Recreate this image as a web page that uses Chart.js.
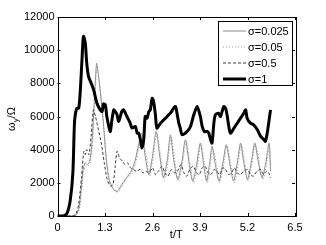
<!DOCTYPE html>
<html>
<head>
<meta charset="utf-8">
<script src="https://cdn.jsdelivr.net/npm/chart.js@4"></script>
<style>html,body{margin:0;padding:0;background:#fff}</style>
</head>
<body>
<canvas id="myChart" width="326" height="245"></canvas>
<script>
// legend labels
const labels = ["σ=0.025", "σ=0.05", "σ=0.5", "σ=1"];
const xTicks = [0, 1.3, 2.6, 3.9, 5.2, 6.5];

// sigma = 0.025
const t025 = [0,0.45,0.52,0.58,0.64,0.70,0.76,0.82,0.88,0.94,1.00,1.07,1.13,1.20,1.27,1.34,1.41,1.48,1.56,1.64,1.72,1.82,1.92,2.02,2.12,2.22,2.31,2.40,2.50,2.60,2.70,2.80,2.90,3.00,3.09,3.18,3.29,3.40,3.50,3.60,3.70,3.80,3.91,4.00,4.08,4.16,4.23,4.32,4.42,4.52,4.62,4.72,4.82,4.92,5.01,5.10,5.20,5.30,5.40,5.50,5.60,5.70,5.79,5.83];
const w025 = [0,0,100,400,1400,2800,3200,3100,3300,4300,6600,9200,8300,6900,5200,3300,2200,1800,1550,1500,1750,2100,2400,2700,3300,4300,5000,3600,2500,3600,5100,3600,2300,3300,4900,3400,2200,3200,4600,3200,2100,3000,4400,3100,2100,3100,4200,3100,2100,3100,4300,3100,2100,3200,4400,3200,2200,3200,4400,3200,2300,3200,4400,2700];

// sigma = 0.05
const t05 = [0,0.46,0.53,0.59,0.65,0.71,0.77,0.83,0.89,0.95,1.01,1.08,1.14,1.21,1.28,1.35,1.42,1.50,1.58,1.66,1.74,1.84,1.94,2.04,2.14,2.24,2.33,2.42,2.52,2.62,2.72,2.82,2.92,3.02,3.11,3.20,3.31,3.42,3.52,3.62,3.72,3.82,3.93,4.02,4.10,4.18,4.25,4.34,4.44,4.54,4.64,4.74,4.84,4.94,5.03,5.12,5.22,5.32,5.42,5.52,5.62,5.72,5.80,5.83];
const w05 = [0,0,80,350,1200,2600,3000,3000,3200,4100,6300,9000,8200,6800,5000,3200,2200,1750,1500,1450,1700,2050,2350,2650,3200,4200,4900,3700,2400,3500,5000,3700,2200,3200,4800,3500,2100,3100,4500,3300,2000,2900,4300,3200,2000,3000,4100,3200,2000,3000,4200,3200,2000,3100,4300,3300,2100,3100,4300,3300,2200,3100,4300,3000];

// sigma = 0.5
const t5 = [0,0.42,0.50,0.58,0.66,0.72,0.76,0.80,0.86,0.92,0.98,1.04,1.12,1.20,1.28,1.36,1.45,1.52,1.58,1.63,1.70,1.78,1.85,1.92,2.00,2.08,2.16,2.26,2.34,2.42,2.50,2.60,2.68,2.76,2.86,2.94,3.02,3.12,3.20,3.28,3.38,3.46,3.54,3.62,3.72,3.80,3.88,3.96,4.04,4.12,4.20,4.28,4.36,4.44,4.52,4.60,4.68,4.76,4.84,4.92,5.00,5.10,5.20,5.28,5.36,5.46,5.56,5.64,5.72,5.78,5.83];
const w5 = [0,0,100,700,2400,3900,3700,4000,3700,4800,6400,6000,5200,4400,3200,2200,1800,1900,3000,3900,3500,3300,3100,3200,2900,2800,2700,2800,2600,2700,2600,2900,2500,2700,3000,2600,2400,2800,2600,2700,3100,2600,2400,2800,3000,2600,2500,2900,3000,2600,2500,2800,2700,2500,2900,2800,2500,2600,2900,2600,2500,2700,2800,2500,2400,2700,2800,2500,2700,2600,2300];

// sigma = 1
const t1 = [0,0.16,0.26,0.35,0.42,0.46,0.48,0.53,0.58,0.62,0.67,0.71,0.76,0.80,0.85,0.94,0.99,1.08,1.17,1.22,1.26,1.31,1.35,1.44,1.49,1.54,1.58,1.63,1.67,1.72,1.76,1.81,1.90,1.99,2.04,2.13,2.18,2.22,2.27,2.31,2.36,2.40,2.45,2.50,2.54,2.59,2.63,2.68,2.72,2.82,2.91,3.00,3.04,3.09,3.18,3.23,3.27,3.32,3.36,3.41,3.55,3.64,3.73,3.82,3.91,3.96,4.02,4.10,4.14,4.19,4.23,4.28,4.32,4.41,4.46,4.55,4.60,4.64,4.73,4.83,4.92,5.01,5.10,5.15,5.19,5.28,5.37,5.47,5.56,5.65,5.69,5.74,5.83];
const w1 = [0,0,160,970,2580,5400,6000,6500,6500,7400,9420,10830,10430,9220,8410,7910,7600,6800,6400,6300,6760,6700,6000,5090,5800,6400,6300,6100,5700,6000,6300,6400,6000,5600,5300,5400,5000,5000,4600,4100,4600,6000,5900,6300,6400,7100,6900,6100,5300,5600,5800,6000,6100,6200,6500,6600,6200,5600,5300,4900,5100,5400,6100,6600,6000,5400,5090,5100,5000,4600,4400,5600,6100,6200,6000,6600,6500,6100,5000,5300,5600,5900,6200,6400,5900,5600,5500,5200,4800,4600,4500,5000,6400];

const pts = (t, w) => t.map((x, i) => ({ x: x, y: w[i] }));
const FONT = "Liberation Sans";

// box, inward ticks, axis titles and legend, matlab style
const framePlugin = {
  id: "frame",
  afterDraw(chart) {
    const ctx = chart.ctx;
    const a = chart.chartArea;
    const sx = chart.scales.x, sy = chart.scales.y;
    ctx.save();
    ctx.strokeStyle = "#000";
    ctx.lineWidth = 1;
    ctx.strokeRect(Math.round(a.left) + 0.5, Math.round(a.top) + 0.5, Math.round(a.right - a.left), Math.round(a.bottom - a.top));
    ctx.beginPath();
    xTicks.forEach((v) => {
      const px = Math.round(sx.getPixelForValue(v)) + 0.5;
      ctx.moveTo(px, a.bottom); ctx.lineTo(px, a.bottom - 3);
      ctx.moveTo(px, a.top); ctx.lineTo(px, a.top + 3);
    });
    sy.ticks.forEach((t) => {
      const py = Math.round(sy.getPixelForValue(t.value)) + 0.5;
      ctx.moveTo(a.left, py); ctx.lineTo(a.left + 3, py);
      ctx.moveTo(a.right, py); ctx.lineTo(a.right - 3, py);
    });
    ctx.stroke();

    // x title
    ctx.fillStyle = "#000";
    ctx.font = "11px " + FONT;
    ctx.textAlign = "center";
    ctx.textBaseline = "middle";
    ctx.fillText("t/T", (a.left + a.right) / 2, 235);

    // y title with subscript
    ctx.save();
    ctx.translate(12, 119);
    ctx.rotate(-Math.PI / 2);
    ctx.textAlign = "left";
    ctx.font = "11px " + FONT;
    const w1t = ctx.measureText("ω").width;
    const w3t = ctx.measureText("/Ω").width;
    ctx.font = "8px " + FONT;
    const w2t = ctx.measureText("y").width;
    let x0 = -(w1t + w2t + w3t) / 2;
    ctx.font = "11px " + FONT;
    ctx.fillText("ω", x0, 0);
    ctx.font = "8px " + FONT;
    ctx.fillText("y", x0 + w1t, 4);
    ctx.font = "11px " + FONT;
    ctx.fillText("/Ω", x0 + w1t + w2t, 0);
    ctx.restore();

    // legend
    const lx = 218.5, ly = 21.5, lw = 74, lh = 64;
    ctx.fillStyle = "#fff";
    ctx.fillRect(lx, ly, lw, lh);
    ctx.strokeStyle = "#000";
    ctx.lineWidth = 1;
    ctx.strokeRect(lx, ly, lw, lh);
    chart.data.datasets.forEach((ds, i) => {
      const y = 31 + i * 16;
      ctx.beginPath();
      ctx.strokeStyle = ds.borderColor;
      ctx.lineWidth = ds.borderWidth;
      ctx.setLineDash(ds.borderDash || []);
      ctx.moveTo(223, y); ctx.lineTo(246, y);
      ctx.stroke();
      ctx.setLineDash([]);
      ctx.fillStyle = "#000";
      ctx.font = "11px " + FONT;
      ctx.textAlign = "left";
      ctx.textBaseline = "middle";
      ctx.fillText(ds.label, 248, y + 0.5);
    });
    ctx.restore();
  },
};

chart = new Chart(document.getElementById("myChart").getContext("2d"), {
  type: "line",
  data: {
    datasets: [
      { label: labels[0], data: pts(t025, w025), borderColor: "#8c8c8c", borderWidth: 1, order: 3 },
      { label: labels[1], data: pts(t05, w05), borderColor: "#9a9a9a", borderWidth: 1, borderDash: [1, 2], order: 2 },
      { label: labels[2], data: pts(t5, w5), borderColor: "#3c3c3c", borderWidth: 1, borderDash: [3, 2], order: 1 },
      { label: labels[3], data: pts(t1, w1), borderColor: "#000", borderWidth: 3, order: 0 },
    ],
  },
  options: {
    responsive: false,
    animation: false,
    layout: { padding: { top: 17, right: 31, left: 0, bottom: 0 } },
    elements: {
      point: { radius: 0 },
      line: { tension: 0.25, fill: false },
    },
    plugins: {
      legend: { display: false },
      tooltip: { enabled: false },
    },
    scales: {
      x: {
        type: "linear",
        min: 0,
        max: 6.5,
        afterBuildTicks: (s) => { s.ticks = xTicks.map((v) => ({ value: v })); },
        afterFit: (s) => { s.height = 29; },
        grid: { display: false, drawTicks: false },
        border: { display: false },
        ticks: {
          color: "#000",
          font: { family: FONT, size: 11 },
          padding: 5,
          maxRotation: 0,
          callback: (v) => (v === 0 ? "0" : v.toFixed(1)),
        },
      },
      y: {
        min: 0,
        max: 12000,
        afterFit: (s) => { s.width = 57.5; },
        grid: { display: false, drawTicks: false },
        border: { display: false },
        ticks: {
          stepSize: 2000,
          color: "#000",
          font: { family: FONT, size: 11 },
          padding: 3,
          callback: (v) => String(v),
        },
      },
    },
  },
  plugins: [framePlugin],
});
</script>
</body>
</html>
